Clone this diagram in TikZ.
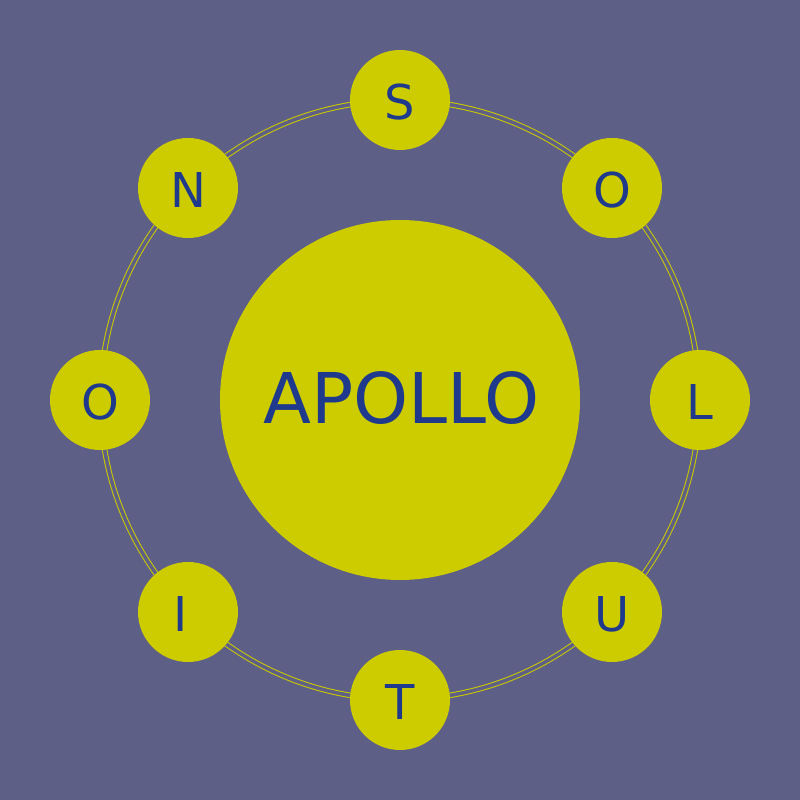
\documentclass[tikz,border=0pt]{standalone}
\usepackage{fontspec}
\setmainfont{DejaVu Sans}
\definecolor{bgc}{HTML}{5E5F87}
\definecolor{yel}{HTML}{CCCC00}
\definecolor{txt}{HTML}{1F3A8C}
\newcommand\lowered[1]{\raisebox{-2.5pt}[\height][\depth]{#1}}
\begin{document}
\begin{tikzpicture}[x=1pt,y=1pt,
  letter/.style={circle,fill=yel,minimum size=100pt,inner sep=0pt,text=txt,font=\fontsize{48}{52}\selectfont},
  hub/.style={circle,fill=yel,minimum size=360pt,inner sep=0pt,text=txt,font=\fontsize{70}{80}\selectfont},
  ring/.style={draw=yel,line width=1pt,double=bgc,double distance=3.5pt}]
\fill[bgc] (0,0) rectangle (800,800);
\useasboundingbox (0,0) rectangle (800,800);
\coordinate (c) at (400,400);
\draw[ring] (c) circle (299.5);
\node[hub] (hub) at (c) {\hspace{3pt}\raisebox{1.5pt}[\height][\depth]{APOLLO}};
\node[letter] (s) at (400,700) {\lowered{S}};
\node[letter] (o1) at (612,612) {\lowered{O}};
\node[letter] (l) at (700,400) {\lowered{L}};
\node[letter] (u) at (612,188) {\lowered{U}};
\node[letter] (t) at (400,100) {\lowered{T}};
\node[letter] (i) at (188,188) {\kern-14pt\lowered{I}};
\node[letter] (o2) at (100,400) {\lowered{O}};
\node[letter] (n) at (188,612) {\lowered{N}};
\end{tikzpicture}
\end{document}
